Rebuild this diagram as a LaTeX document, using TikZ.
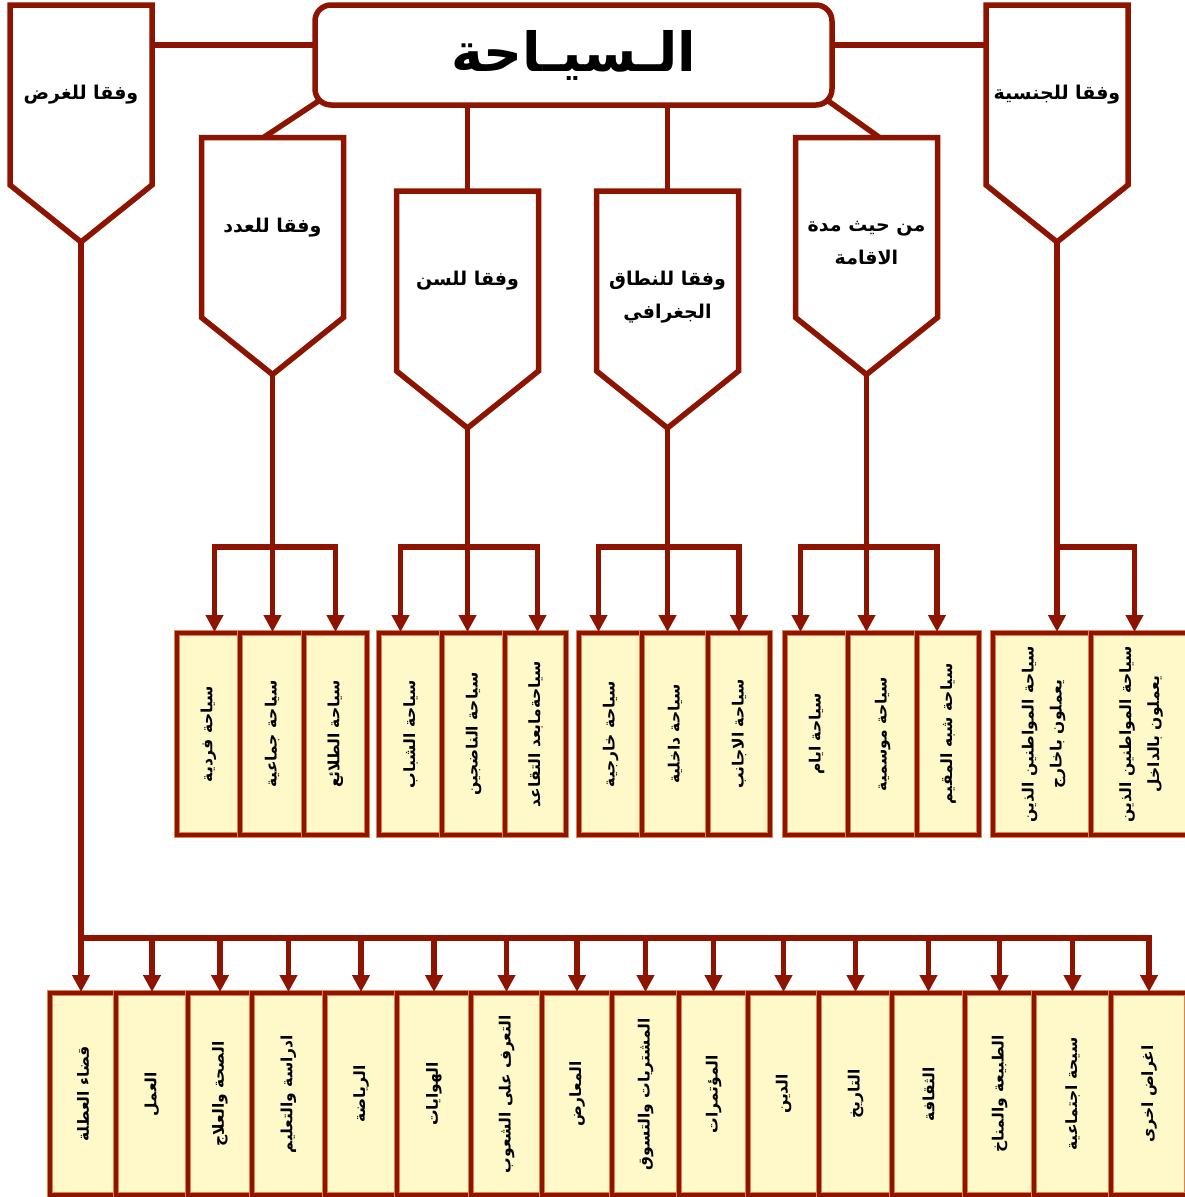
\documentclass[tikz,border=0pt]{standalone}
\usepackage{fontspec}
\usepackage{tikz}
\usetikzlibrary{arrows.meta,calc,positioning}
\TeXXeTstate=1
\newfontfamily\arabicfont[Script=Arabic]{DejaVu Sans}
\definecolor{darkmaroon}{RGB}{140,20,0}
\definecolor{rimorange}{RGB}{225,130,70}
\definecolor{boxyellow}{RGB}{255,249,201}
\newcommand{\artxt}[1]{\beginR #1\endR}
\tikzstyle{conn}=[darkmaroon, line width=5.5pt]
\tikzstyle{arr}=[conn, -{Triangle[width=17pt,length=17pt]}, shorten >=1pt]
\tikzstyle{titlebox}=[rectangle, rounded corners=16pt, draw=darkmaroon, fill=white,
  line width=5.5pt, outer sep=0pt, minimum width=517pt, minimum height=100pt,
  font=\arabicfont\bfseries\fontsize{54}{58}\selectfont]
\tikzstyle{pentbody}=[rectangle, outer sep=0pt, minimum width=142pt, minimum height=180pt]
\tikzstyle{pentline}=[conn, fill=white, line join=miter]
\tikzstyle{pentlabel}=[align=center, font=\arabicfont\bfseries\fontsize{19}{33}\selectfont]
\tikzstyle{kindbox}=[rectangle, draw=rimorange, line width=0.8pt, double=darkmaroon,
  double distance=4.4pt, fill=boxyellow, outer sep=0pt, inner sep=0pt, minimum height=202pt,
  font=\arabicfont\bfseries\fontsize{15.5}{28}\selectfont]

\begin{document}
\begin{tikzpicture}[x=1pt, y=-1pt]
  \useasboundingbox (0,0) rectangle (1185,1197);
  % title
  \node[titlebox] (siyaha) at (573.5,55) {\artxt{الـسيـاحة}};
  % pentagon bodies
  \node[pentbody] (gharad) at (81,95) {};
  \node[pentbody] (adad) at (272.5,227.5) {};
  \node[pentbody] (sinn) at (467.5,281) {};
  \node[pentbody] (nitaq) at (667.5,281) {};
  \node[pentbody] (iqama) at (866.5,227.5) {};
  \node[pentbody] (jinsiya) at (1057,95) {};
  % title to pentagons
  \coordinate (siyahaW) at ($(siyaha.north west)!0.4!(siyaha.south west)$);
  \coordinate (siyahaE) at ($(siyaha.north east)!0.4!(siyaha.south east)$);
  \draw[conn] (siyahaW) -- (siyahaW -| gharad.east);
  \draw[conn] (siyahaE) -- (siyahaE -| jinsiya.west);
  \draw[conn] ($(siyaha.south west)+(4.7pt,4.7pt)$) -- ($(adad.north)+(-9pt,0)$);
  \draw[conn] ($(siyaha.south east)+(-4.7pt,4.7pt)$) -- ($(iqama.north)+(13pt,0)$);
  \draw[conn] (siyaha.south -| sinn.north) -- (sinn.north);
  \draw[conn] (siyaha.south -| nitaq.north) -- (nitaq.north);
  % pentagons
  \draw[pentline] (gharad.north west) -- (gharad.north east) -- (gharad.south east)
    -- ($(gharad.south)+(0,-57pt)$) coordinate (gharadtip) -- (gharad.south west) -- cycle;
  \draw[pentline] (adad.north west) -- (adad.north east) -- (adad.south east)
    -- ($(adad.south)+(0,-57pt)$) coordinate (adadtip) -- (adad.south west) -- cycle;
  \draw[pentline] (sinn.north west) -- (sinn.north east) -- (sinn.south east)
    -- ($(sinn.south)+(0,-57pt)$) coordinate (sinntip) -- (sinn.south west) -- cycle;
  \draw[pentline] (nitaq.north west) -- (nitaq.north east) -- (nitaq.south east)
    -- ($(nitaq.south)+(0,-57pt)$) coordinate (nitaqtip) -- (nitaq.south west) -- cycle;
  \draw[pentline] (iqama.north west) -- (iqama.north east) -- (iqama.south east)
    -- ($(iqama.south)+(0,-57pt)$) coordinate (iqamatip) -- (iqama.south west) -- cycle;
  \draw[pentline] (jinsiya.north west) -- (jinsiya.north east) -- (jinsiya.south east)
    -- ($(jinsiya.south)+(0,-57pt)$) coordinate (jinsiyatip) -- (jinsiya.south west) -- cycle;
  \node[pentlabel] (gharadlabel) at (gharad) {\artxt{وفقا للغرض}};
  \node[pentlabel] (adadlabel) at (adad) {\artxt{وفقا للعدد}};
  \node[pentlabel] (sinnlabel) at (sinn) {\artxt{وفقا للسن}};
  \node[pentlabel] (nitaqlabel) at ($(nitaq)+(0,-16pt)$)
    {\artxt{وفقا للنطاق}\\\artxt{الجغرافي}};
  \node[pentlabel] (iqamalabel) at ($(iqama)+(0,-16pt)$)
    {\artxt{من حيث مدة}\\\artxt{الاقامة}};
  \node[pentlabel] (jinsiyalabel) at (jinsiya) {\artxt{وفقا للجنسية}};
  % first row of kinds
  \node[kindbox, minimum width=63pt, anchor=north west] (fardiya) at (177,633)
    {\rotatebox{90}{\artxt{سياحة فردية}}};
  \node[kindbox, minimum width=64pt, right=0pt of fardiya] (jamaiya)
    {\rotatebox{90}{\artxt{سياحة جماعية}}};
  \node[kindbox, minimum width=63pt, right=0pt of jamaiya] (talai)
    {\rotatebox{90}{\artxt{سياحة الطلائع}}};
  \node[kindbox, minimum width=63pt, anchor=north west] (shabab) at (379,633)
    {\rotatebox{90}{\artxt{سياحة الشباب}}};
  \node[kindbox, minimum width=63pt, right=0pt of shabab] (nadijin)
    {\rotatebox{90}{\artxt{سياحة الناضجين}}};
  \node[kindbox, minimum width=61pt, right=0pt of nadijin] (taqaud)
    {\rotatebox{90}{\artxt{سياحةمابعد التقاعد}}};
  \node[kindbox, minimum width=63pt, anchor=north west] (kharijiya) at (579,633)
    {\rotatebox{90}{\artxt{سياحة خارجية}}};
  \node[kindbox, minimum width=66pt, right=0pt of kharijiya] (dakhiliya)
    {\rotatebox{90}{\artxt{سياحة داخلية}}};
  \node[kindbox, minimum width=62pt, right=0pt of dakhiliya] (ajanib)
    {\rotatebox{90}{\artxt{سياحة الاجانب}}};
  \node[kindbox, minimum width=63pt, anchor=north west] (ayyam) at (785,633)
    {\rotatebox{90}{\artxt{سياحة ايام}}};
  \node[kindbox, minimum width=69pt, right=0pt of ayyam] (mawsimiya)
    {\rotatebox{90}{\artxt{سياحة موسمية}}};
  \node[kindbox, minimum width=62pt, right=0pt of mawsimiya] (shibhmuqim)
    {\rotatebox{90}{\artxt{سياحة شبه المقيم}}};
  \node[kindbox, minimum width=98pt, anchor=north west] (bilkharij) at (993,633)
    {\rotatebox{90}{\begin{tabular}{@{}c@{}}\artxt{سياحة المواطنين الذين}\\
    \artxt{يعملون باخارج}\end{tabular}}};
  \node[kindbox, minimum width=97pt, right=0pt of bilkharij] (bildakhil)
    {\rotatebox{90}{\begin{tabular}{@{}c@{}}\artxt{سياحة المواطنين الذين}\\
    \artxt{يعملون بالداخل}\end{tabular}}};
  % second row, purposes
  \node[kindbox, minimum width=66pt, anchor=north west] (qadaa) at (50,993)
    {\rotatebox{90}{\artxt{قضاء العطلة}}};
  \node[kindbox, minimum width=72pt, right=0pt of qadaa] (amal)
    {\rotatebox{90}{\artxt{العمل}}};
  \node[kindbox, minimum width=64pt, right=0pt of amal] (sihha)
    {\rotatebox{90}{\artxt{الصحة والعلاج}}};
  \node[kindbox, minimum width=73pt, right=0pt of sihha] (dirasa)
    {\rotatebox{90}{\artxt{ادراسة والتعليم}}};
  \node[kindbox, minimum width=72pt, right=0pt of dirasa] (riyada)
    {\rotatebox{90}{\artxt{الرياضة}}};
  \node[kindbox, minimum width=74pt, right=0pt of riyada] (hiwayat)
    {\rotatebox{90}{\artxt{الهوايات}}};
  \node[kindbox, minimum width=71pt, right=0pt of hiwayat] (shuub)
    {\rotatebox{90}{\artxt{التعرف على الشعوب}}};
  \node[kindbox, minimum width=70pt, right=0pt of shuub] (maarid)
    {\rotatebox{90}{\artxt{المعارض}}};
  \node[kindbox, minimum width=67pt, right=0pt of maarid] (mushtarayat)
    {\rotatebox{90}{\artxt{المشتريات والتسوق}}};
  \node[kindbox, minimum width=69pt, right=0pt of mushtarayat] (mutamarat)
    {\rotatebox{90}{\artxt{المؤتمرات}}};
  \node[kindbox, minimum width=71pt, right=0pt of mutamarat] (din)
    {\rotatebox{90}{\artxt{الدين}}};
  \node[kindbox, minimum width=73pt, right=0pt of din] (tarikh)
    {\rotatebox{90}{\artxt{التاريخ}}};
  \node[kindbox, minimum width=73pt, right=0pt of tarikh] (thaqafa)
    {\rotatebox{90}{\artxt{الثقافة}}};
  \node[kindbox, minimum width=69pt, right=0pt of thaqafa] (tabia)
    {\rotatebox{90}{\artxt{الطبيعة والمناخ}}};
  \node[kindbox, minimum width=77pt, right=0pt of tabia] (ijtimaiya)
    {\rotatebox{90}{\artxt{سيحة اجتماعية}}};
  \node[kindbox, minimum width=76pt, right=0pt of ijtimaiya] (ukhra)
    {\rotatebox{90}{\artxt{اغراض اخرى}}};
  % arrows to first row
  \draw[arr] (adadtip) -- (adadtip |- jamaiya.north);
  \coordinate (adadbar) at ($(adadtip |- jamaiya.north)+(0,86pt)$);
  \draw[arr] (adadbar) -| ($(fardiya.north)+(6pt,0)$);
  \draw[arr] (adadbar) -| (talai.north);
  \draw[arr] (sinntip) -- (sinntip |- nadijin.north);
  \coordinate (sinnbar) at ($(sinntip |- nadijin.north)+(0,86pt)$);
  \draw[arr] (sinnbar) -| ($(shabab.north)+(-10pt,0)$);
  \draw[arr] (sinnbar) -| ($(taqaud.north)+(2pt,0)$);
  \draw[arr] (nitaqtip) -- (nitaqtip |- dakhiliya.north);
  \coordinate (nitaqbar) at ($(nitaqtip |- dakhiliya.north)+(0,86pt)$);
  \draw[arr] (nitaqbar) -| ($(kharijiya.north)+(-12pt,0)$);
  \draw[arr] (nitaqbar) -| (ajanib.north);
  \draw[arr] (iqamatip) -- (iqamatip |- mawsimiya.north);
  \coordinate (iqamabar) at ($(iqamatip |- mawsimiya.north)+(0,86pt)$);
  \draw[arr] (iqamabar) -| ($(ayyam.north)+(-16pt,0)$);
  \draw[arr] (iqamabar) -| ($(shibhmuqim.north)+(-11pt,0)$);
  \draw[arr] (jinsiyatip) -- (jinsiyatip |- bilkharij.north);
  \coordinate (jinsiyabar) at ($(jinsiyatip |- bilkharij.north)+(0,86pt)$);
  \draw[arr] (jinsiyabar) -| ($(bildakhil.north)+(-5pt,0)$);
  % arrows to second row
  \draw[arr] (gharadtip) -- (gharadtip |- qadaa.north);
  \coordinate (gharadbar) at ($(gharadtip |- qadaa.north)+(0,55pt)$);
  \draw[arr] (gharadbar) -| (amal.north);
  \draw[arr] (gharadbar) -| (sihha.north);
  \draw[arr] (gharadbar) -| (dirasa.north);
  \draw[arr] (gharadbar) -| (riyada.north);
  \draw[arr] (gharadbar) -| (hiwayat.north);
  \draw[arr] (gharadbar) -| (shuub.north);
  \draw[arr] (gharadbar) -| (maarid.north);
  \draw[arr] (gharadbar) -| (mushtarayat.north);
  \draw[arr] (gharadbar) -| (mutamarat.north);
  \draw[arr] (gharadbar) -| (din.north);
  \draw[arr] (gharadbar) -| (tarikh.north);
  \draw[arr] (gharadbar) -| (thaqafa.north);
  \draw[arr] (gharadbar) -| (tabia.north);
  \draw[arr] (gharadbar) -| (ijtimaiya.north);
  \draw[arr] (gharadbar) -| (ukhra.north);
\end{tikzpicture}
\end{document}
